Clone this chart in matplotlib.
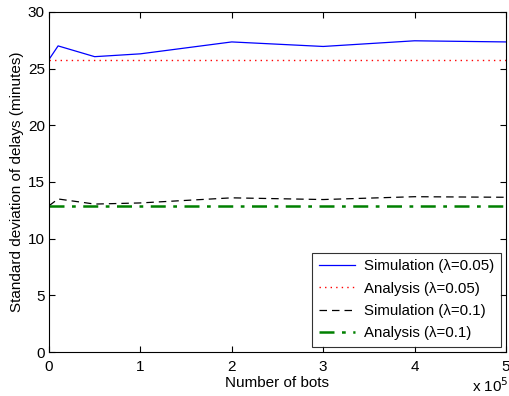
import matplotlib
matplotlib.use("Agg")
import matplotlib.pyplot as plt
import numpy as np

plt.rcParams['font.family'] = ['Liberation Sans', 'DejaVu Sans']

bots = [0, 10000, 50000, 100000, 200000, 300000, 400000, 500000]
sim_005 = [25.8, 27.0, 26.05, 26.3, 27.35, 26.95, 27.45, 27.35]
ana_005 = [25.75] * len(bots)
sim_01 = [12.9, 13.5, 13.05, 13.15, 13.6, 13.45, 13.7, 13.65]
ana_01 = [12.9] * len(bots)

xticks = [0, 100000, 200000, 300000, 400000, 500000]
xticklabels = ['0', '1', '2', '3', '4', '5']
yticks = [0, 5, 10, 15, 20, 25, 30]

fig = plt.figure(figsize=(5.1, 3.96), dpi=100)
ax = fig.add_axes([0.096, 0.111, 0.896, 0.859])

ax.plot(bots, sim_005, color='#0000ff', lw=0.9, label='Simulation (λ=0.05)')
ax.plot(bots, ana_005, color='#ff0000', lw=1.0, ls=(0, (1, 3)), label='Analysis (λ=0.05)')
ax.plot(bots, sim_01, color='black', lw=0.9, ls=(0, (6, 4)), label='Simulation (λ=0.1)')
ax.plot(bots, ana_01, color='#008000', lw=1.8, ls=(0, (6, 3, 1.5, 3)), label='Analysis (λ=0.1)')

ax.set_xlim(0, 500000)
ax.set_ylim(0, 30)
ax.set_xticks(xticks)
ax.set_xticklabels(xticklabels)
ax.set_yticks(yticks)
ax.tick_params(direction='in', length=4, labelsize=11, top=True, right=True, width=0.8, pad=3)
ax.tick_params(axis='x', pad=6)
for s in ax.spines.values():
    s.set_linewidth(0.8)

ax.set_xlabel('Number of bots', fontsize=11, labelpad=1)
ax.set_ylabel('Standard deviation of delays (minutes)', fontsize=11, labelpad=3)
fig.text(0.962, 0.026, 'x 10$^{5}$', ha='center', va='center', fontsize=11)

leg = ax.legend(loc='lower right', fontsize=10.8, frameon=True, fancybox=False,
                edgecolor='black', borderaxespad=0.35, handlelength=2.4,
                labelspacing=0.55, borderpad=0.45, handletextpad=0.6)
leg.get_frame().set_linewidth(0.8)

fig.savefig('out.png', dpi=100)
